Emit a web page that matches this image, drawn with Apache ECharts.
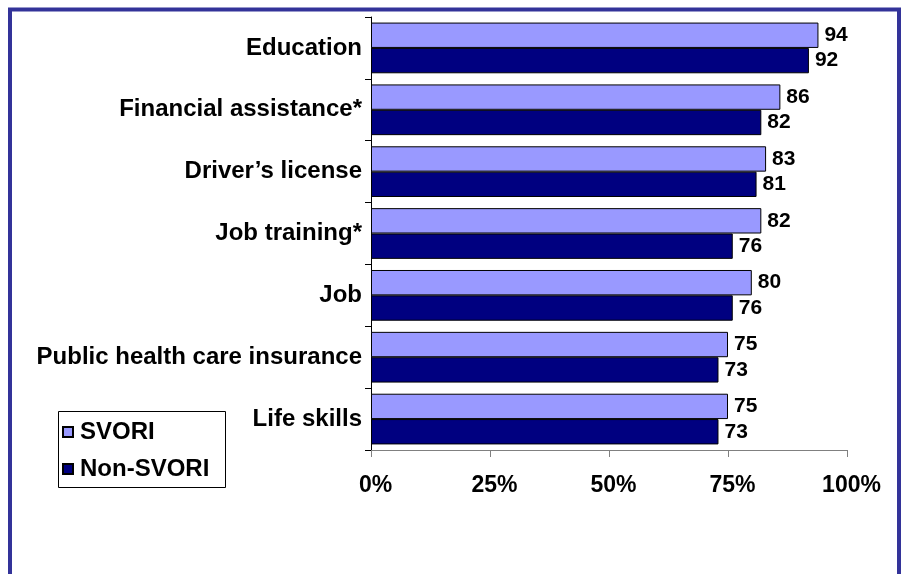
<!DOCTYPE html>
<html>
<head>
<meta charset="utf-8">
<script src="https://cdn.jsdelivr.net/npm/echarts@6/dist/echarts.min.js"></script>
<style>
html,body{margin:0;padding:0;background:#fff;}
#chart{width:901px;height:574px;}
</style>
</head>
<body>
<div id="chart"></div>
<script>
const categories = ["Education", "Financial assistance*", "Driver\u2019s license", "Job training*", "Job", "Public health care insurance", "Life skills"];
const svori = [94, 86, 83, 82, 80, 75, 75];
const nonSvori = [92, 82, 81, 76, 76, 73, 73];
const seriesNames = ["SVORI", "Non-SVORI"];
const xTicks = [0, 25, 50, 75, 100];

const FONT = '"Liberation Sans", Arial, sans-serif';
const chart = echarts.init(document.getElementById('chart'), null, {renderer: 'canvas'});
const labelStyle = {show: true, position: 'right', distance: 6, color: '#000', fontWeight: 'bold', fontSize: 21, fontFamily: FONT};
chart.setOption({
  animation: false,
  backgroundColor: '#fff',
  grid: {left: 371, right: 54, top: 17, bottom: 124, containLabel: false},
  xAxis: {
    type: 'value', min: xTicks[0], max: xTicks[xTicks.length - 1], interval: 25,
    axisLine: {show: true, lineStyle: {color: '#808080', width: 1}},
    axisTick: {show: true, length: 7, lineStyle: {color: '#808080'}},
    splitLine: {show: false},
    axisLabel: {formatter: '{value}%', margin: 24, padding: [0, 0, 0, 9], color: '#000', fontWeight: 'bold', fontSize: 23, fontFamily: FONT}
  },
  yAxis: {
    type: 'category', data: categories, inverse: true,
    axisLine: {show: true, lineStyle: {color: '#000', width: 1}},
    axisTick: {show: true, length: 6, alignWithLabel: false, lineStyle: {color: '#000'}},
    axisLabel: {margin: 9, color: '#000', fontWeight: 'bold', fontSize: 24, fontFamily: FONT}
  },
  legend: {
    orient: 'vertical', left: 62, top: 420, itemWidth: 10, itemHeight: 10, itemGap: 13,
    padding: 0, icon: 'rect',
    textStyle: {color: '#000', fontWeight: 'bold', fontSize: 24, fontFamily: FONT, padding: [0, 0, 0, 2]},
    data: seriesNames
  },
  graphic: [
    {type: 'rect', silent: true, shape: {x: 10, y: 9.5, width: 889, height: 620}, style: {fill: 'none', stroke: '#333399', lineWidth: 4}},
    {type: 'rect', silent: true, shape: {x: 58.5, y: 411.5, width: 167, height: 76}, style: {fill: 'none', stroke: '#000', lineWidth: 1}}
  ],
  series: [
    {name: seriesNames[0], type: 'bar', data: svori, barGap: '0%', barCategoryGap: '18%',
     itemStyle: {color: '#9999FF', borderColor: '#000', borderWidth: 1}, label: labelStyle},
    {name: seriesNames[1], type: 'bar', data: nonSvori, barGap: '0%', barCategoryGap: '18%',
     itemStyle: {color: '#000080', borderColor: '#000', borderWidth: 1}, label: labelStyle}
  ]
});
</script>
</body>
</html>
